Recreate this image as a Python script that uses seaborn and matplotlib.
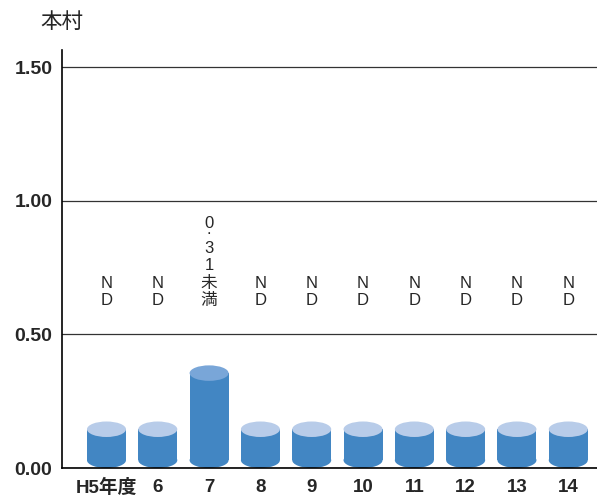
import seaborn as sns
import matplotlib.pyplot as plt
import pandas as pd
from matplotlib.patches import Ellipse

# データ
years = ['H5年度', '6', '7', '8', '9', '10', '11', '12', '13', '14']
values = [0.145, 0.145, 0.355, 0.145, 0.145, 0.145, 0.145, 0.145, 0.145, 0.145]
labels = [['N', 'D'], ['N', 'D'], ['0\n.', '3', '1', '未', '満'], ['N', 'D'], ['N', 'D'],
          ['N', 'D'], ['N', 'D'], ['N', 'D'], ['N', 'D'], ['N', 'D']]
top_colors = ['#b8cce9'] * 10
top_colors[2] = '#79a6d8'

df = pd.DataFrame({'year': years, 'value': values})

sns.set_style('white')
plt.rcParams['font.family'] = ['Liberation Sans', 'Noto Sans CJK JP']

fig = plt.figure(figsize=(5.97, 4.98), dpi=100)
ax = fig.add_axes([62 / 597, 30 / 498, 1 - 62 / 597, 418 / 498])

body = '#4286c3'
sns.barplot(data=df, x='year', y='value', color=body, width=0.76,
            saturation=1, linewidth=0, ax=ax)

ew, eh = 0.76, 0.058
base = eh / 2
for i, p in enumerate(ax.patches[:len(values)]):
    top = p.get_height()
    cx = p.get_x() + p.get_width() / 2
    p.set_y(base)
    p.set_height(top - base)
    ax.add_patch(Ellipse((cx, base), ew, eh, facecolor=body, edgecolor='none', zorder=2))
    ax.add_patch(Ellipse((cx, top), ew, eh, facecolor=top_colors[i], edgecolor='none', zorder=3))
    # 縦書きラベル (下から1文字ずつ)
    for k, ch in enumerate(reversed(labels[i])):
        if '\n' in ch:
            # 「0.」は行間を詰めて1つのテキストに
            ax.annotate(ch, (cx, 0.625), xytext=(0, 17.5 * k + 15), textcoords='offset pixels',
                        ha='center', va='top', fontsize=12, linespacing=0.25,
                        family=['Liberation Sans', 'Noto Sans CJK JP'])
        else:
            ax.annotate(ch, (cx, 0.625), xytext=(0, 17.5 * k), textcoords='offset pixels',
                        ha='center', va='center', fontsize=12,
                        family=['Liberation Sans', 'Noto Sans CJK JP'])

ax.set_ylim(0, 1.564)
ax.set_xlim(-0.867, 9.56)
ax.set_yticks([0, 0.5, 1.0, 1.5])
ax.set_yticklabels(['0.00', '0.50', '1.00', '1.50'], fontsize=14, fontweight='bold')
ax.set_xticks(range(len(years)))
ax.set_xticklabels(years, fontsize=13.5, fontweight='bold')
ax.tick_params(axis='y', length=0, pad=7)
ax.tick_params(axis='x', length=0, pad=8)
ax.yaxis.grid(True, color='#333333', linewidth=0.9)
ax.set_axisbelow(True)
ax.set_xlabel('')
ax.set_ylabel('')
for s in ['top', 'right']:
    ax.spines[s].set_visible(False)
for s in ['left', 'bottom']:
    ax.spines[s].set_color('black')
    ax.spines[s].set_linewidth(1.2)

fig.text(40 / 597, 1 - 22 / 498, '本村', fontsize=15.5, va='center', ha='left',
         family=['Noto Sans CJK JP'])

fig.savefig('out.png', dpi=100)
